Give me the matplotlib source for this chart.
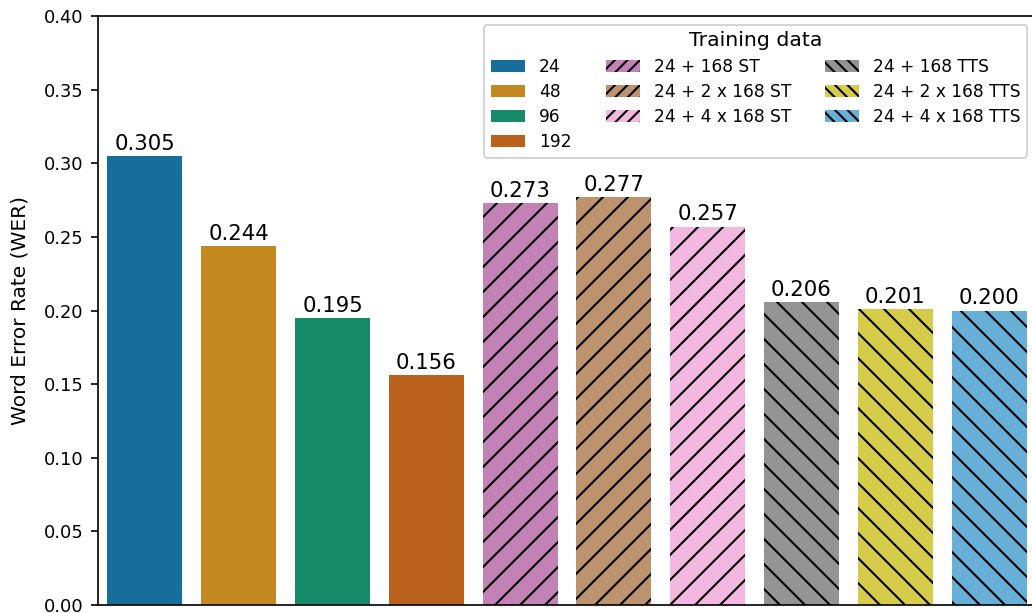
import matplotlib
matplotlib.use("Agg")
import matplotlib.pyplot as plt
from matplotlib.patches import Patch
import seaborn as sns

labels = ["24", "48", "96", "192",
          "24 + 168 ST", "24 + 2 x 168 ST", "24 + 4 x 168 ST",
          "24 + 168 TTS", "24 + 2 x 168 TTS", "24 + 4 x 168 TTS"]
wer = [0.305, 0.244, 0.195, 0.156, 0.273, 0.277, 0.257, 0.206, 0.201, 0.200]
hatches = ["", "", "", "", "//", "//", "//", "\\\\", "\\\\", "\\\\"]
yticks = [0.00, 0.05, 0.10, 0.15, 0.20, 0.25, 0.30, 0.35, 0.40]

colors = sns.color_palette("colorblind", 10, desat=0.75)

plt.rcParams["hatch.linewidth"] = 1.0
plt.rcParams["font.family"] = ["DejaVu Sans"]

fig = plt.figure(figsize=(1032 / 150, 613 / 150), dpi=150)
ax = fig.add_axes([98 / 1032, 8 / 613, (1036 - 98) / 1032, 589 / 613])

x = list(range(len(wer)))
bars = ax.bar(x, wer, width=0.8, color=colors, edgecolor="black", linewidth=0)
for b, h in zip(bars, hatches):
    if h:
        b.set_hatch(h)
ax.bar_label(bars, fmt="%.3f", fontsize=10.2, padding=1)

ax.set_xlim(-0.5, 9.5)
ax.set_ylim(0, 0.40)
ax.set_yticks(yticks)
ax.set_yticklabels([f"{t:.2f}" for t in yticks], fontsize=8.6)
ax.set_xticks([])
ax.set_ylabel("Word Error Rate (WER)", fontsize=9.7, labelpad=7)

# legend swatches carry a denser hatch than the bars
handles = [Patch(facecolor=c, edgecolor="black", linewidth=0, hatch=h * 2 if h else None)
           for c, h in zip(colors, hatches)]
ax.legend(handles, labels, title="Training data", ncol=3, loc="upper right",
          fontsize=8.2, title_fontsize=9.8, labelspacing=0.42)

fig.savefig("out.png", dpi=150)
